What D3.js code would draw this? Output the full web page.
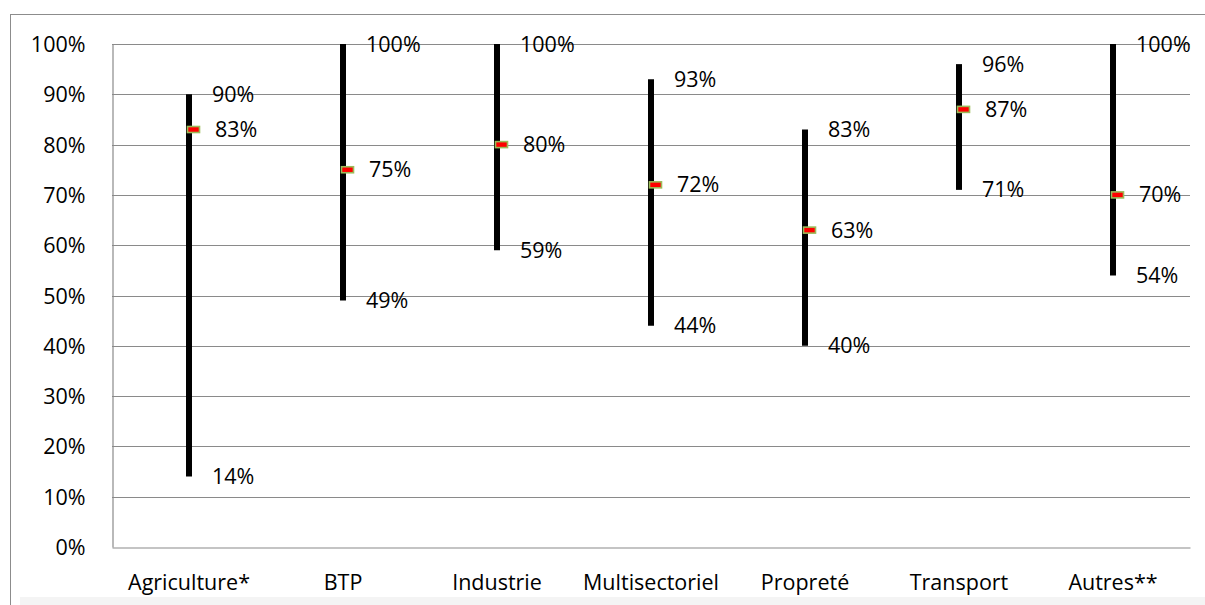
<!DOCTYPE html>
<html>
<head>
<meta charset="utf-8">
<script src="https://cdn.jsdelivr.net/npm/d3@7"></script>
<style>
  html, body { margin: 0; padding: 0; background: #fff; }
  svg { display: block; }
  text { font-family: "Open Sans", Lato, sans-serif; fill: #000; }
</style>
</head>
<body>
<svg id="chart" width="1205" height="605"></svg>
<script>
// Share ranges by sector: maximum, average, minimum
const categories = ["Agriculture*", "BTP", "Industrie", "Multisectoriel", "Propreté", "Transport", "Autres**"];
const highValues = [0.90, 1.00, 1.00, 0.93, 0.83, 0.96, 1.00];
const meanValues = [0.83, 0.75, 0.80, 0.72, 0.63, 0.87, 0.70];
const lowValues  = [0.14, 0.49, 0.59, 0.44, 0.40, 0.71, 0.54];
const yTicks = [0, 0.1, 0.2, 0.3, 0.4, 0.5, 0.6, 0.7, 0.8, 0.9, 1.0];

const rows = categories.map((c, i) => ({ cat: c, high: highValues[i], mean: meanValues[i], low: lowValues[i] }));

const svg = d3.select("#chart");
const plot = { left: 112, right: 1190, top: 44, bottom: 547 };
const fontSize = "21.5px";

// Chart frame (extends past the right edge) and faint bottom strip
svg.append("rect").attr("x", 20).attr("y", 597).attr("width", 1200).attr("height", 10).attr("fill", "#f4f4f4");
svg.append("rect").attr("x", 10.5).attr("y", 14.5).attr("width", 1220).attr("height", 620)
  .attr("fill", "none").attr("stroke", "#8c8c8c").attr("stroke-width", 1);

const x = d3.scaleBand().domain(categories).range([plot.left, plot.right]).padding(0);
const y = d3.scaleLinear().domain([0, 1]).range([plot.bottom, plot.top]);
const fmt = d3.format(".0%");

// Horizontal gridlines
svg.append("g")
  .selectAll("line").data(yTicks.filter(t => t > 0)).join("line")
  .attr("x1", plot.left).attr("x2", plot.right)
  .attr("y1", d => Math.round(y(d)) + 0.5).attr("y2", d => Math.round(y(d)) + 0.5)
  .attr("stroke", "#8a8a8a").attr("stroke-width", 1.2);

// Y axis
const yAxis = svg.append("g")
  .attr("transform", `translate(${plot.left + 0.5},0)`)
  .call(d3.axisLeft(y).tickValues(yTicks).tickFormat(fmt).tickSize(0).tickPadding(27));
yAxis.select(".domain").attr("stroke", "#8a8a8a").attr("stroke-width", 1.2);
yAxis.selectAll("text").style("font-size", fontSize).attr("dy", "0.35em");

// X axis
const xAxis = svg.append("g")
  .attr("transform", `translate(0,${plot.bottom + 0.5})`)
  .call(d3.axisBottom(x).tickSize(0).tickPadding(27));
xAxis.select(".domain").attr("stroke", "#8a8a8a").attr("stroke-width", 1.2);
xAxis.selectAll("text").style("font-size", fontSize);

const cx = d => x(d.cat) + x.bandwidth() / 2;

// High-low lines
svg.append("g").selectAll("line").data(rows).join("line")
  .attr("x1", cx).attr("x2", cx)
  .attr("y1", d => y(d.high)).attr("y2", d => y(d.low))
  .attr("stroke", "#000").attr("stroke-width", 6);

// Average markers
svg.append("g").selectAll("rect").data(rows).join("rect")
  .attr("x", d => cx(d) - 1.5).attr("y", d => y(d.mean) - 3)
  .attr("width", 12).attr("height", 6)
  .attr("fill", "#ff0000").attr("stroke", "#9bbb59").attr("stroke-width", 1.6);

// Value labels
const labels = svg.append("g").style("font-size", fontSize);
labels.selectAll("text.high").data(rows).join("text").attr("class", "high")
  .attr("x", d => cx(d) + 23).attr("y", d => y(d.high)).attr("dy", "0.35em")
  .text(d => fmt(d.high));
labels.selectAll("text.mean").data(rows).join("text").attr("class", "mean")
  .attr("x", d => cx(d) + 26).attr("y", d => y(d.mean)).attr("dy", "0.35em")
  .text(d => fmt(d.mean));
labels.selectAll("text.low").data(rows).join("text").attr("class", "low")
  .attr("x", d => cx(d) + 23).attr("y", d => y(d.low)).attr("dy", "0.35em")
  .text(d => fmt(d.low));
</script>
</body>
</html>
